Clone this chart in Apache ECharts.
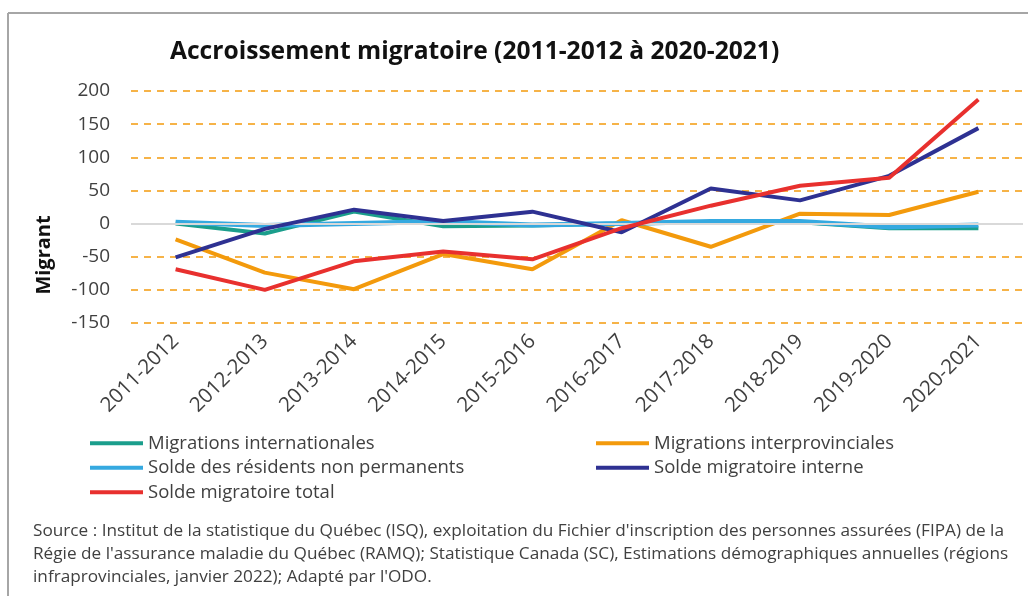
<!DOCTYPE html>
<html><head><meta charset="utf-8">
<script src="https://cdn.jsdelivr.net/npm/echarts@6/dist/echarts.min.js"></script>
<style>html,body{margin:0;padding:0;background:#fff}#c{width:1028px;height:596px}</style>
</head><body><div id="c"></div>
<script>
const categories = ['2011-2012','2012-2013','2013-2014','2014-2015','2015-2016','2016-2017','2017-2018','2018-2019','2019-2020','2020-2021'];
const migrationsInternationales = [0,-15,18,-4,-3,0,2,2,-7,-7];
const migrationsInterprovinciales = [-24,-74,-99,-46,-69,5,-35,15,13,48];
const residentsNonPermanents = [2,-3,0,3,-2,0,3,3,-5,-2];
const soldeInterne = [-51,-8,21,4,18,-13,53,35,72,144];
const soldeTotal = [-69,-100,-57,-42,-54,-7,27,57,69,187];
const seriesNames = ['Migrations internationales','Migrations interprovinciales','Solde des résidents non permanents','Solde migratoire interne','Solde migratoire total'];
const colors = ['#1b9e8c','#f39a0c','#35a9e0','#2e3192','#e8302e'];
const FONT = 'Open Sans';
const chart = echarts.init(document.getElementById('c'));
function mk(i, data, w){
  return {name: seriesNames[i], type:'line', data: data, symbol:'none', smooth:false,
    lineStyle:{color:colors[i], width:w}, itemStyle:{color:colors[i]}, z: 2+i};
}
const s0 = mk(0, migrationsInternationales, 4);
s0.markLine = {silent:true, symbol:'none', label:{show:false}, lineStyle:{color:'#d9d9d9', type:'solid', width:2}, data:[{yAxis:0}]};
const legendBase = {orient:'vertical', top:433, padding:0, icon:'rect', itemWidth:53, itemHeight:4, itemGap:4,
  textStyle:{fontFamily:FONT, fontSize:18.5, color:'#404040', lineHeight:20.5}};
chart.setOption({
  backgroundColor:'#fff',
  animation:false,
  color: colors,
  title:{text:'Accroissement migratoire (2011-2012 à 2020-2021)', left:165, top:34,
    textStyle:{fontFamily:FONT, fontSize:24.6, fontWeight:'bold', color:'#111'}},
  grid:{left:131, right:5, top:91, bottom:273, containLabel:false},
  xAxis:{type:'category', data:categories, boundaryGap:true,
    axisLine:{show:false}, axisTick:{show:false},
    axisLabel:{rotate:45, margin:15, fontFamily:FONT, fontSize:20.5, color:'#404040'}},
  yAxis:{type:'value', min:-150, max:200, interval:50,
    axisLine:{show:false}, axisTick:{show:false},
    axisLabel:{margin:21, fontFamily:FONT, fontSize:19, color:'#404040'},
    splitLine:{show:true, lineStyle:{color:'#f39a0c', type:[7,6], width:1.5}}},
  legend:[
    Object.assign({}, legendBase, {data:[seriesNames[0], seriesNames[2], seriesNames[4]], left:90}),
    Object.assign({}, legendBase, {data:[seriesNames[1], seriesNames[3]], left:596})
  ],
  graphic:[
    {type:'line', shape:{x1:8, y1:13, x2:1028, y2:13}, style:{stroke:'#a6a6a6', lineWidth:2}},
    {type:'line', shape:{x1:8, y1:13, x2:8, y2:596}, style:{stroke:'#a6a6a6', lineWidth:2}},
    {type:'text', x:44, y:255, rotation:Math.PI/2,
     style:{text:'Migrant', font:'bold 20px '+FONT, fill:'#111', textAlign:'center', textVerticalAlign:'middle'}},
    {type:'text', left:33, top:520,
     style:{text:"Source : Institut de la statistique du Québec (ISQ), exploitation du Fichier d'inscription des personnes assurées (FIPA) de la\nRégie de l'assurance maladie du Québec (RAMQ); Statistique Canada (SC), Estimations démographiques annuelles (régions\ninfraprovinciales, janvier 2022); Adapté par l'ODO.",
       font:'17.2px '+FONT, fill:'#404040', lineHeight:23}}
  ],
  series:[
    s0,
    mk(1, migrationsInterprovinciales, 4),
    mk(2, residentsNonPermanents, 5),
    mk(3, soldeInterne, 4),
    mk(4, soldeTotal, 4)
  ]
});
</script></body></html>
